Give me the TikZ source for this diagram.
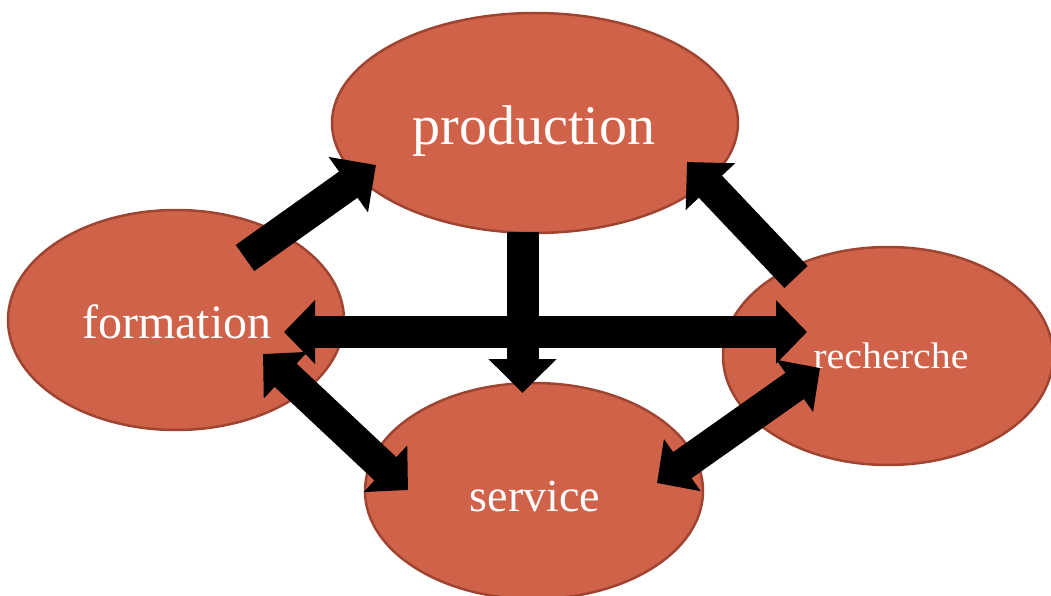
\documentclass[tikz,border=0pt]{standalone}
\usepackage{fontspec}
\setmainfont{Liberation Serif}
\usetikzlibrary{shapes.geometric,arrows.meta}
\definecolor{fillc}{RGB}{208,98,74}
\definecolor{edgec}{RGB}{160,68,50}
\begin{document}
\begin{tikzpicture}[x=1pt,y=-1pt,
  blob/.style={ellipse, fill=fillc, draw=edgec, line width=2.5pt, inner sep=0pt},
  lbl/.style={text=white, anchor=base, inner sep=0pt},
  blk/.style={line width=32pt, black, -{Triangle[width=66pt,length=34pt]}},
  dblk/.style={line width=32pt, black, {Triangle[width=62pt,length=31pt]}-{Triangle[width=62pt,length=31pt]}}]
\useasboundingbox (0,0) rectangle (1051,596);
% ellipses
\node[blob, minimum width=406pt, minimum height=220pt] (prod) at (535,123) {};
\node[blob, minimum width=336pt, minimum height=220pt] (form) at (176,320) {};
\node[blob, minimum width=330pt, minimum height=218pt] (rech) at (888,356) {};
\node[blob, minimum width=338pt, minimum height=216pt] (serv) at (534,491) {};
% labels
\node[lbl, font=\fontsize{56}{60}\selectfont] (prodt) at (534,145) {production};
\node[lbl, font=\fontsize{48}{52}\selectfont] (formt) at (177,338) {formation};
\node[lbl, font=\fontsize{46}{50}\selectfont] (servt) at (535,511) {service};
\node[lbl, font=\fontsize{37}{40}\selectfont, xscale=1.08] (recht) at (891,368) {recherche};
% arrow end points
\coordinate (f1) at (245,258); \coordinate (p1) at (376,165);
\coordinate (r1) at (796,277); \coordinate (p2) at (687,162);
\coordinate (p3) at (522.5,232); \coordinate (s3) at (522.5,393);
\coordinate (f4) at (284,332); \coordinate (r4) at (807,332);
\coordinate (f5) at (263,354); \coordinate (s5) at (408,490);
\coordinate (s6) at (657,483); \coordinate (r6) at (820,368);
% arrows
\draw[blk] (f1) -- (p1);
\draw[blk] (r1) -- (p2);
\draw[blk] (p3) -- (s3);
\draw[dblk] (f4) -- (r4);
\draw[dblk] (f5) -- (s5);
\draw[dblk] (s6) -- (r6);
\end{tikzpicture}
\end{document}
